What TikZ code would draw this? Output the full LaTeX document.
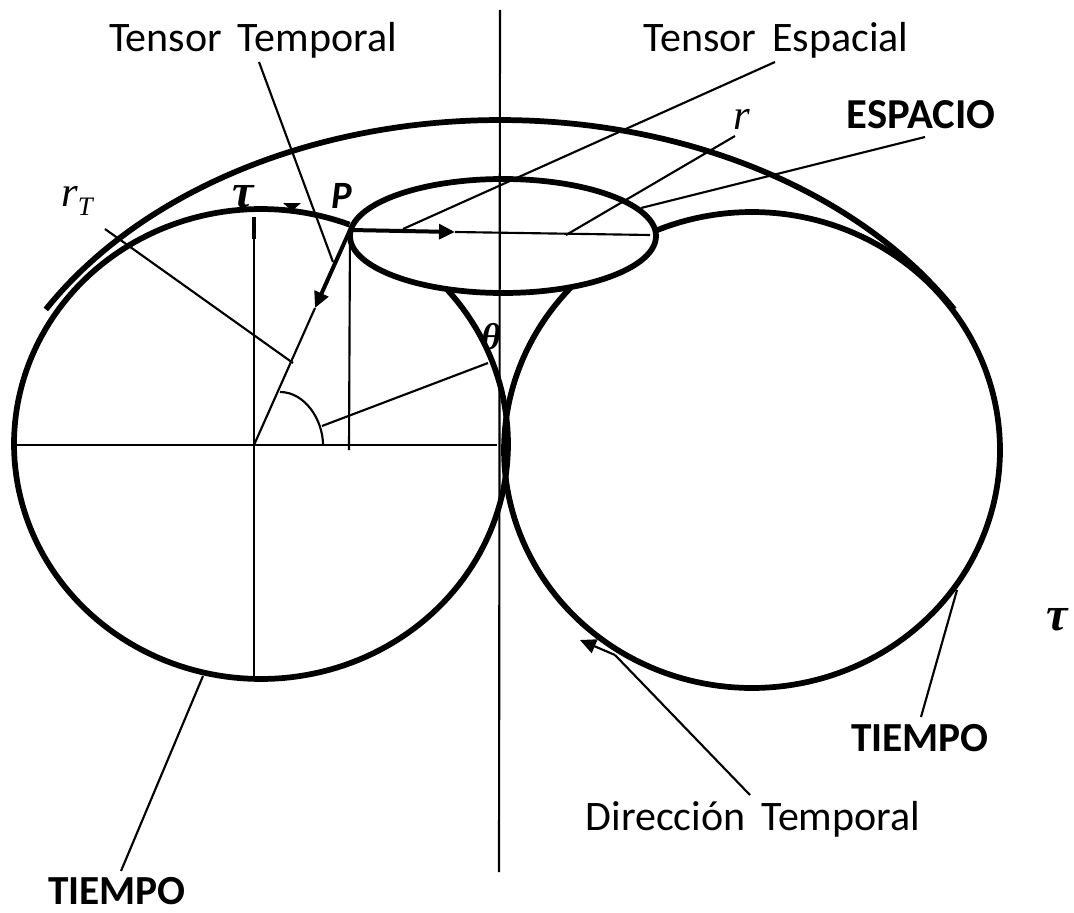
\documentclass[tikz,border=0pt]{standalone}
\usepackage{fontspec}
\setmainfont{Carlito}
\newfontfamily\cambriaish{Liberation Serif}
\usetikzlibrary{arrows.meta}
\tikzset{
  heavy/.style={line width=4.3pt,line cap=butt,line join=round},
  thin line/.style={line width=1.6pt},
  mid/.style={line width=3pt},
  lab/.style={inner sep=0pt,font=\fontsize{31.5}{36}\selectfont},
  blab/.style={inner sep=0pt,font=\fontsize{31}{36}\selectfont\bfseries},
  mth/.style={inner sep=0pt,font=\fontsize{32}{36}\selectfont\cambriaish\itshape},
  bmth/.style={inner sep=0pt,font=\fontsize{36}{40}\selectfont\cambriaish\bfseries\itshape},
  tip/.style={-{Triangle[length=12pt,width=11pt]}}
}
\begin{document}
\begin{tikzpicture}[x=0.75pt,y=-0.75pt]
\useasboundingbox (0,0) rectangle (1074,913);
% labels
\node[lab] (tt) at (253,40) {Tensor\hspace{.15em} Temporal};
\node[lab] (te) at (776,40) {Tensor\hspace{.15em} Espacial};
\node[lab] (dt) at (753,819) {Dirección\hspace{.15em} Temporal};
\node[blab,font=\fontsize{32}{36}\selectfont\bfseries] (esp) at (921,115) {ESPACIO};
\node[blab] (t1) at (117,891) {TIEMPO};
\node[blab] (t2) at (920,738) {TIEMPO};
\node[mth] (rr) at (742,119) {r};
\node[mth] (rt) at (77,201) {r\raisebox{-.22em}{\fontsize{20}{24}\selectfont T}};
\node[bmth] (tau1) at (243,197) {τ};
\node[bmth] (tau2) at (1057,620) {τ};
\node[bmth,font=\fontsize{28}{32}\selectfont\cambriaish\bfseries\itshape] (th) at (491,337) {θ};
\node[blab,font=\fontsize{29}{32}\selectfont\bfseries\itshape] (pp) at (342,196) {P};
% named points
\coordinate (O) at (254,445);
\coordinate (P) at (350,230);
\coordinate (axT) at (500,10);
\coordinate (axB) at (499,872);
\coordinate (hL) at (12,445);
\coordinate (hR) at (497,445);
\coordinate (vT) at (254,217);
\coordinate (vB) at (254,677);
\coordinate (vPb) at (349,450);
\coordinate (aH) at (455,232);
\coordinate (aHe) at (650,235);
\coordinate (aR) at (315,308);
% main curves
\draw[heavy] plot[domain=149.9:30.1,samples=90] ({500+525*cos(\x)},{500-380*sin(\x)});
\draw[heavy] plot[domain=69:401,samples=180] ({261+247*cos(\x)},{444-235*sin(\x)});
\draw[heavy] plot[domain=137:472.5,samples=180] ({752+248*cos(\x)},{450-238*sin(\x)});
\draw[heavy] (503,236) ellipse[x radius=153,y radius=57];
% axes
\draw[thin line] (axT) -- (axB);
\draw[thin line] (hL) -- (hR);
\draw[thin line] (vT) -- (vB);
\draw[mid] (vT) -- (254,239);
\draw[thin line] (P) -- (vPb);
% radius
\draw[thin line] (O) -- (aR);
\draw[mid,tip] (P) -- (aR);
% space arrow
\draw[thin line] (aH) -- (aHe);
\draw[mid,tip] (P) -- (aH);
% angle
\draw[thin line] (323,445) .. controls (323,420) and (305,392) .. (280,392);
\coordinate (a1) at (322,426);
\coordinate (a2) at (488,363);
\draw[thin line] (a1) -- (a2);
% small head
\fill (283,203) -- (301,203) -- (292,211) -- cycle;
% leaders
\coordinate (ttA) at (259,62);
\coordinate (ttB) at (333,262);
\draw[thin line] (ttA) -- (ttB);
\coordinate (teA) at (775,62);
\coordinate (teB) at (403,229);
\draw[thin line] (teA) -- (teB);
\coordinate (rA) at (735,136);
\coordinate (rB) at (566,235);
\draw[thin line] (rA) -- (rB);
\coordinate (eA) at (925,137);
\coordinate (eB) at (641,208);
\draw[thin line] (eA) -- (eB);
\coordinate (rtA) at (105,229);
\coordinate (rtB) at (293,363);
\draw[thin line] (rtA) -- (rtB);
\coordinate (t1A) at (121,871);
\coordinate (t1B) at (203,676);
\draw[thin line] (t1A) -- (t1B);
\coordinate (t2A) at (921,717);
\coordinate (t2B) at (957,590);
\draw[thin line] (t2A) -- (t2B);
\coordinate (dtA) at (750,795);
\coordinate (dtB) at (615,655);
\coordinate (dtC) at (580,640);
\draw[thin line] (dtA) -- (dtB);
\draw[thin line,tip] (dtB) -- (dtC);
\end{tikzpicture}
\end{document}
